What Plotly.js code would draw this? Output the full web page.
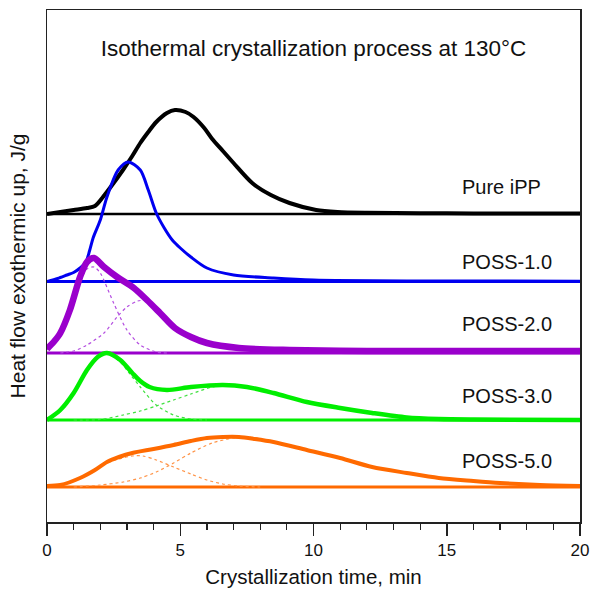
<!DOCTYPE html>
<html>
<head>
<meta charset="utf-8">
<script src="https://cdn.plot.ly/plotly-3.0.1.min.js"></script>
<style>html,body{margin:0;padding:0;background:#fff;}#chart{width:590px;height:592px;}</style>
</head>
<body>
<div id="chart"></div>
<script>
// ---- data (heights, arbitrary units) ----
const seriesNames = ['Pure iPP', 'POSS-1.0', 'POSS-2.0', 'POSS-3.0', 'POSS-5.0'];
const baselineOffsets = [308, 240.5, 169, 102, 35];

const tIPP = [0, 0.5, 1, 1.5, 1.8, 2.1, 2.5, 2.85, 3.2, 3.5, 3.8, 4.1, 4.5, 4.8, 5.2, 5.5, 5.9, 6.2, 6.6, 7.0, 7.7, 8.4, 9.1, 10.1, 10.9, 12, 14, 16, 18, 20];
const yIPP = [0, 2, 4, 6, 8, 17, 31, 44, 58, 71, 82, 92, 101, 104, 102, 97, 86, 75, 63, 51, 31, 19, 11, 4, 2, 1.2, 0.8, 0.6, 0.5, 0.5];

const tP10 = [0, 0.4, 0.75, 1.0, 1.24, 1.45, 1.6, 1.73, 2.0, 2.25, 2.67, 3.05, 3.5, 3.8, 4.1, 4.4, 4.7, 5.0, 5.4, 6.0, 7.0, 8.5, 10, 14, 20];
const yP10 = [0, 3, 6.5, 9, 13.5, 19, 31, 43.5, 61.5, 84.5, 111.5, 119.5, 111.5, 91.5, 68.5, 53.5, 41.5, 33.5, 24.5, 13.5, 6.5, 3.5, 1.5, 0.5, 0.3];

const tP20 = [0, 0.25, 0.5, 0.86, 1.24, 1.5, 1.76, 2.14, 2.63, 3.26, 3.75, 4.24, 4.8, 5.4, 6.0, 7.2, 9.1, 12, 20];
const yP20 = [4, 11, 20, 43, 76, 91, 95, 86, 76, 65, 53, 40, 25, 16, 10, 5, 3, 2, 2];
const tP20a = [0, 0.25, 0.5, 0.86, 1.24, 1.5, 1.76, 2.0, 2.18, 2.5, 3.0, 3.5, 4.1, 4.5];
const yP20a = [3, 10, 19, 41, 71, 84, 86, 80, 70, 50, 23, 8, 1, 0];
const tP20b = [0.5, 0.75, 1.0, 1.5, 2.14, 2.63, 3.0, 3.4, 3.75, 4.24, 4.8, 5.4, 6.0, 7.2, 9.0];
const yP20b = [0, 1, 2, 8, 20, 36, 46, 52, 52, 40, 25, 16, 10, 5, 2];

const tP30 = [0, 0.5, 1.0, 1.5, 1.9, 2.25, 2.75, 3.2, 3.5, 3.85, 4.5, 5.4, 6.6, 7.5, 8.5, 9.75, 11, 12.2, 13.5, 14.7, 16, 20];
const yP30 = [0, 10, 27, 50, 63, 67, 60, 47, 39, 33, 30, 33, 35, 33, 27, 18, 12, 7, 2.5, 1, 0.5, 0];
const tP30a = [0, 0.5, 1, 1.5, 1.9, 2.25, 2.75, 3.05, 3.5, 4.1, 4.75, 5.4, 6.0];
const yP30a = [0, 10, 27, 50, 63, 66, 58, 48, 33, 15, 5, 1, 0];
const tP30b = [1, 2, 2.86, 3.5, 4.1, 4.75, 5.4, 6.2, 6.8, 7.5, 8.5, 9.75, 11, 12.2, 13.5, 14.7, 16];
const yP30b = [0, 0.5, 5, 9, 14, 20, 26, 33, 35, 33, 27, 18, 12, 7, 2.5, 1, 0.5];

const tP50 = [0, 0.5, 1.24, 1.8, 2.25, 2.7, 3.2, 4.0, 4.75, 5.4, 6.0, 6.6, 7.2, 7.8, 8.5, 9.75, 11, 12.2, 13.5, 14.7, 16, 17, 18.5, 20];
const yP50 = [1, 2, 9, 17, 25, 30, 34, 38, 42, 46, 49, 50, 50, 48, 45, 37, 29, 20, 14, 9, 6, 4, 2, 1];
const tP50a = [0, 0.5, 1.24, 1.8, 2.25, 2.7, 3.2, 3.6, 4.1, 4.75, 5.4, 6.0, 6.6, 7.2, 8];
const yP50a = [1, 2, 9, 17, 24, 28, 31, 31, 27, 20, 13, 7, 3, 1, 0];
const tP50b = [1, 2, 2.86, 3.5, 4.1, 4.75, 5.4, 6.2, 7.0, 7.6, 8.5, 9.75, 11, 12.2, 13.5, 14.7, 16, 17, 18.5, 20];
const yP50b = [0, 2, 5, 9, 15, 24, 34, 44, 49, 50, 45, 37, 29, 20, 14, 9, 6, 4, 2, 1];

const xRange = [0, 20];
const labelX = 15.5;
const labelHeights = [27, 20, 29, 24, 26];

// ---- styles ----
const mainColors = ['#000000', '#0000f0', '#9a00cc', '#00ee00', '#ff6a00'];
const compColors = ['#000000', '#0000f0', '#b44ee0', '#3fe03f', '#ff9448'];
const mainWidths = [4, 3, 6.5, 4.5, 4];
const baseWidths = [2.5, 3, 3, 3, 3];

const mainSets = [[tIPP, yIPP], [tP10, yP10], [tP20, yP20], [tP30, yP30], [tP50, yP50]];
const compSets = [[], [], [[tP20a, yP20a], [tP20b, yP20b]], [[tP30a, yP30a], [tP30b, yP30b]], [[tP50a, yP50a], [tP50b, yP50b]]];

const traces = [];
for (let i = 0; i < seriesNames.length; i++) {
  const off = baselineOffsets[i];
  traces.push({x: xRange, y: [off, off], mode: 'lines', line: {color: mainColors[i], width: baseWidths[i]}, hoverinfo: 'skip'});
  compSets[i].forEach(c => {
    traces.push({x: c[0], y: c[1].map(v => v + off), mode: 'lines',
      line: {color: compColors[i], width: 1.2, dash: 'dot', shape: 'spline', smoothing: 0.8}, hoverinfo: 'skip'});
  });
  traces.push({x: mainSets[i][0], y: mainSets[i][1].map(v => v + off), mode: 'lines', name: seriesNames[i],
    line: {color: mainColors[i], width: mainWidths[i], shape: 'spline', smoothing: 0.8}});
}

const font = 'Liberation Sans, Arial, sans-serif';
const annotations = seriesNames.map((n, i) => ({
  x: labelX, y: baselineOffsets[i] + labelHeights[i], xref: 'x', yref: 'y',
  text: n, showarrow: false, xanchor: 'left', yanchor: 'middle',
  font: {family: font, size: 20, color: '#111'}
}));

const layout = {
  width: 590, height: 592,
  margin: {l: 47, r: 10, t: 10, b: 70},
  paper_bgcolor: '#fff', plot_bgcolor: '#fff',
  showlegend: false,
  font: {family: font, color: '#111'},
  title: {text: 'Isothermal crystallization process at 130°C', font: {family: font, size: 22.5, color: '#111'},
    xref: 'paper', x: 0.5, xanchor: 'center', yref: 'container', y: 1 - 48 / 592, yanchor: 'middle'},
  xaxis: {range: xRange, showline: true, linewidth: 1.5, linecolor: '#222', mirror: true,
    ticks: 'outside', ticklen: 12, tickwidth: 1.5, tickcolor: '#222', tick0: 0, dtick: 5,
    minor: {ticks: 'outside', ticklen: 6, tickwidth: 1.2, tickcolor: '#222', dtick: 1},
    showgrid: false, zeroline: false, tickfont: {family: font, size: 17, color: '#111'},
    title: {text: 'Crystallization time, min', font: {family: font, size: 20.5, color: '#111'}, standoff: 10}},
  yaxis: {range: [0, 512], showline: true, linewidth: 1.5, linecolor: '#222', mirror: true,
    showticklabels: false, ticks: '', showgrid: false, zeroline: false,
    title: {text: 'Heat flow exothermic up, J/g', font: {family: font, size: 21, color: '#111'}, standoff: 14}},
  annotations: annotations
};

Plotly.newPlot('chart', traces, layout, {staticPlot: true, displayModeBar: false});
</script>
</body>
</html>
